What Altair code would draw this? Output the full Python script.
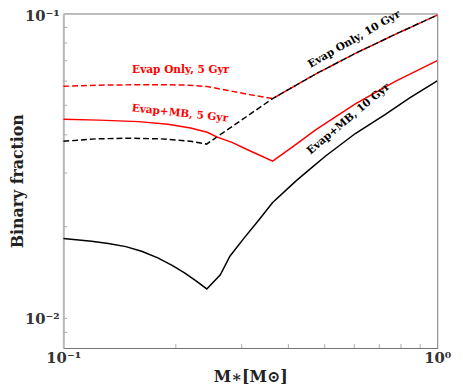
import altair as alt
import pandas as pd

# ---- data ----
# Evap+MB, 10 Gyr (black solid)
bs_M = [0.1, 0.119, 0.132, 0.147, 0.162, 0.179, 0.196, 0.211, 0.226, 0.242, 0.263, 0.279,
        0.304, 0.333, 0.363, 0.42, 0.46, 0.503, 0.604, 0.725, 0.844, 1.0]
bs_f = [0.0183, 0.0179, 0.0176, 0.0172, 0.0166, 0.0158, 0.0149, 0.0141, 0.0133, 0.0125, 0.0139, 0.0160,
        0.0183, 0.0210, 0.0240, 0.0283, 0.0311, 0.0341, 0.0404, 0.0466, 0.0529, 0.0601]
# Evap+MB, 5 Gyr (red solid)
rs_M = [0.1, 0.1245, 0.159, 0.1905, 0.219, 0.2427, 0.258, 0.2826, 0.31, 0.3352, 0.363,
        0.42, 0.474, 0.604, 0.77, 1.0]
rs_f = [0.0450, 0.0447, 0.0442, 0.0433, 0.0421, 0.0408, 0.0393, 0.0378, 0.0358, 0.0343, 0.0328,
        0.0373, 0.0416, 0.0505, 0.0598, 0.0701]
# Evap Only, 5 Gyr (red dashed)
rd_M = [0.1, 0.1245, 0.159, 0.1905, 0.215, 0.2427, 0.2742, 0.315, 0.363, 0.474, 0.604, 0.77, 1.0]
rd_f = [0.0577, 0.0582, 0.0584, 0.0584, 0.0582, 0.0576, 0.0560, 0.0542, 0.0526, 0.0634, 0.0740, 0.0853, 0.0988]
# Evap Only, 10 Gyr (black dashed)
bd_M = [0.1, 0.1222, 0.1493, 0.1826, 0.219, 0.2417, 0.363, 0.474, 0.604, 0.77, 1.0]
bd_f = [0.0381, 0.0388, 0.0390, 0.0388, 0.0381, 0.0373, 0.0526, 0.0634, 0.0740, 0.0853, 0.0988]

# annotations
ann_text = ["Evap Only, 5 Gyr", "Evap+MB, 5 Gyr", "Evap Only, 10 Gyr", "Evap+MB, 10 Gyr"]
ann_M = [0.206, 0.205, 0.600, 0.579]
ann_f = [0.0652, 0.0470, 0.0822, 0.0451]
ann_angle = [0, 6, 330, 320]
ann_color = ["#ff0000", "#ff0000", "#000000", "#000000"]

x_minor = [0.2, 0.3, 0.4, 0.5, 0.6, 0.7, 0.8, 0.9]
y_minor = [0.009, 0.01, 0.02, 0.03, 0.04, 0.05, 0.06, 0.07, 0.08, 0.09]

W, H = 379, 339
FONT = "DejaVu Serif"

xs = alt.Scale(type="log", domain=[0.1, 1.0], nice=False)
ys = alt.Scale(type="log", domain=[0.008, 0.1], nice=False)

x_axis = alt.Axis(values=[0.1, 1.0], labelExpr="datum.value < 0.5 ? '10⁻¹' : '10⁰'",
                  ticks=False, tickSize=0, grid=False, domain=True, domainColor="#777777",
                  labelFont=FONT, labelFontSize=15, labelFontWeight="bold", labelColor="#333333",
                  labelPadding=3, labelFlush=False,
                  title="M∗[M⊙]", titleFont=FONT, titleFontSize=16, titleFontWeight="bold",
                  titleColor="#222222", titlePadding=3)
y_axis = alt.Axis(values=[0.01, 0.1], labelExpr="datum.value < 0.05 ? '10⁻²' : '10⁻¹'",
                  ticks=False, tickSize=0, grid=False, domain=True, domainColor="#bbbbbb",
                  domainWidth=2,
                  labelFont=FONT, labelFontSize=15, labelFontWeight="bold", labelColor="#333333",
                  labelPadding=4, labelFlush=False,
                  labelOffset={"condition": {"test": "datum.value > 0.05", "value": 2}, "value": 0},
                  title="Binary fraction", titleFont=FONT, titleFontSize=16, titleFontWeight="bold",
                  titleColor="#222222", titleX=-46, titleBaseline="middle")

X = lambda: alt.X("M:Q", scale=xs, axis=x_axis)
Y = lambda: alt.Y("f:Q", scale=ys, axis=y_axis)


def line(M, f, color, dash=None):
    df = pd.DataFrame({"M": M, "f": f})
    kw = dict(color=color, strokeWidth=1.5, clip=True)
    if dash:
        kw["strokeDash"] = dash
    return alt.Chart(df).mark_line(**kw).encode(x=X(), y=Y())


xt = alt.Chart(pd.DataFrame({"M": x_minor})).mark_rule(color="#aaaaaa", strokeWidth=1).encode(
    x=X(), y=alt.value(H), y2=alt.value(H - 4))
yt = alt.Chart(pd.DataFrame({"f": y_minor})).mark_rule(color="#aaaaaa", strokeWidth=1).encode(
    y=Y(), x=alt.value(0), x2=alt.value(4))

ann = alt.Chart(pd.DataFrame({"t": ann_text, "M": ann_M, "f": ann_f, "a": ann_angle, "c": ann_color})).mark_text(
    font=FONT, fontSize=10.7, fontWeight="bold", align="center", baseline="middle").encode(
    x=X(), y=Y(),
    text="t:N", angle=alt.Angle("a:Q", scale=None), color=alt.Color("c:N", scale=None))

chart = alt.layer(
    line(rd_M, rd_f, "#ff0000", [6, 3]),
    line(bd_M, bd_f, "#000000", [6, 3]),
    line(rs_M, rs_f, "#ff0000"),
    line(bs_M, bs_f, "#000000"),
    xt, yt, ann,
).properties(
    width=W, height=H,
    autosize=alt.AutoSizeParams(type="none"),
    padding={"left": 56, "top": 3, "right": 18, "bottom": 40},
    background="white",
).configure_view(stroke="#777777", strokeWidth=1)

chart.save("out.html", embed_options={"renderer": "svg", "actions": False})
